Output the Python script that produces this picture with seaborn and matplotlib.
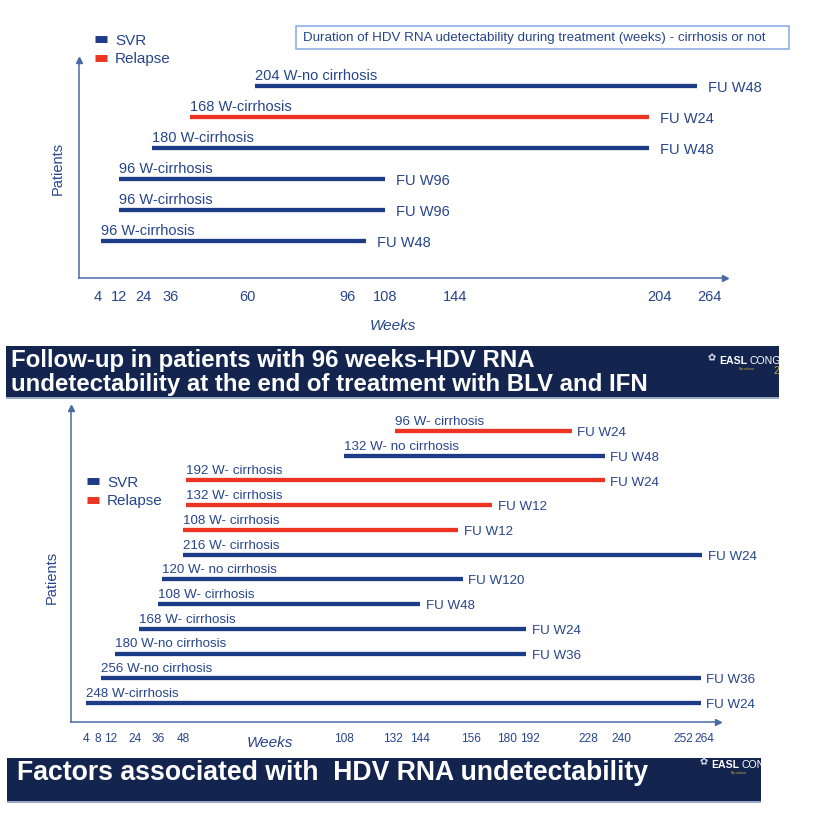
import numpy as np
import pandas as pd
import matplotlib
matplotlib.use("Agg")
import matplotlib.pyplot as plt
from matplotlib.patches import Rectangle
import seaborn as sns

# ---------------- data ----------------
top_labels = ["204 W-no cirrhosis", "168 W-cirrhosis", "180 W-cirrhosis",
              "96 W-cirrhosis", "96 W-cirrhosis", "96 W-cirrhosis"]
top_outcome = ["SVR", "Relapse", "SVR", "SVR", "SVR", "SVR"]
top_start = [63, 42, 28, 12, 12, 5]
top_end = [250, 201, 201, 108, 108, 102]
top_fu = ["FU W48", "FU W24", "FU W48", "FU W96", "FU W96", "FU W48"]
top_ticks = [4, 12, 24, 36, 60, 96, 108, 144, 204, 264]

bot_labels = ["96 W- cirrhosis", "132 W- no cirrhosis", "192 W- cirrhosis",
              "132 W- cirrhosis", "108 W- cirrhosis", "216 W- cirrhosis",
              "120 W- no cirrhosis", "108 W- cirrhosis", "168 W- cirrhosis",
              "180 W-no cirrhosis", "256 W-no cirrhosis", "248 W-cirrhosis"]
bot_outcome = ["Relapse", "SVR", "Relapse", "Relapse", "Relapse", "SVR",
               "SVR", "SVR", "SVR", "SVR", "SVR", "SVR"]
bot_start = [133, 108, 49, 49, 48, 48, 38, 36, 26, 14, 9, 4]
bot_end = [218, 234, 234, 170, 153, 263, 154, 144, 190, 190, 262, 262]
bot_fu = ["FU W24", "FU W48", "FU W24", "FU W12", "FU W12", "FU W24",
          "FU W120", "FU W48", "FU W24", "FU W36", "FU W36", "FU W24"]
bot_ticks = [4, 8, 12, 24, 36, 48, 108, 132, 144, 156, 180, 192, 228, 240, 252, 264]

legend_order = ["SVR", "Relapse"]
box_text = "Duration of HDV RNA udetectability during treatment (weeks) - cirrhosis or not"
banner1_lines = ["Follow-up in patients with 96 weeks-HDV RNA",
                 "undetectability at the end of treatment with BLV and IFN"]
banner2_text = "Factors associated with  HDV RNA undetectability"

# ---------------- style ----------------
BLUE = "#1d3c88"
RED = "#ec3422"
TXT = "#27458c"
AX = "#4a6aa5"
NAVY = "#13244f"
palette = {"SVR": BLUE, "Relapse": RED}

sns.set_theme(style="white")
plt.rcParams["font.family"] = ["Liberation Sans", "DejaVu Sans"]

W, H = 816, 819
fig = plt.figure(figsize=(W / 100, H / 100), dpi=100)
fig.patch.set_facecolor("white")


def fx(x):
    return x / W


def fy(y):
    return 1 - y / H


def make_df(start, end, outcome):
    n = len(start)
    rows = []
    for i in range(n):
        r = n - 1 - i
        rows.append({"patient": i, "week": start[i], "row": r, "outcome": outcome[i]})
        rows.append({"patient": i, "week": end[i], "row": r, "outcome": outcome[i]})
    return pd.DataFrame(rows)


def draw_chart(ax, labels, outcome, start, end, fu, ticks, knots_px, row_px,
               ax_px, lab_fs, fu_fs, fu_dx, tick_fs, tick_len,
               weeks_pos, patients_pos, leg_pos):
    df = make_df(start, end, outcome)
    sns.lineplot(data=df, x="week", y="row", hue="outcome", units="patient",
                 estimator=None, sort=False, palette=palette,
                 hue_order=legend_order, linewidth=3.1,
                 solid_capstyle="butt", ax=ax)
    n = len(start)
    for i in range(n):
        r = n - 1 - i
        ax.annotate(labels[i], xy=(start[i], r), xytext=(0, 2.2),
                    textcoords="offset points", ha="left", va="bottom",
                    fontsize=lab_fs, color=TXT)
        ax.annotate(fu[i], xy=(end[i], r), xytext=(fu_dx, -1.5),
                    textcoords="offset points", ha="left", va="center",
                    fontsize=fu_fs, color=TXT)
    # piecewise scale matching the schematic axis
    kw = [0] + list(ticks) + [280]
    kp = np.array(knots_px, dtype=float)
    fwd = lambda x: np.interp(x, kw, kp)
    inv = lambda p: np.interp(p, kp, kw)
    ax.set_xscale("function", functions=(fwd, inv))
    ax.set_xlim(0, 280)
    ax.set_xticks(ticks)
    ax.set_xticklabels([str(t) for t in ticks])
    ax.minorticks_off()
    left, right, top, bottom = ax_px
    r0, rtop = row_px
    sp = (r0 - rtop) / (n - 1)
    ax.set_ylim(-(bottom - r0) / sp, (n - 1) + (rtop - top) / sp)
    ax.set_yticks([])
    for s in ["top", "right"]:
        ax.spines[s].set_visible(False)
    for s in ["left", "bottom"]:
        ax.spines[s].set_color(AX)
        ax.spines[s].set_linewidth(1.1)
    ax.tick_params(axis="x", direction="inout", length=tick_len, width=1.1,
                   color=AX, labelcolor=TXT, labelsize=tick_fs, pad=5)
    ax.plot([1], [0], marker=">", color=AX, markersize=4,
            transform=ax.transAxes, clip_on=False)
    ax.plot([0], [1], marker="^", color=AX, markersize=4,
            transform=ax.transAxes, clip_on=False)
    ax.set_xlabel("Weeks", fontsize=11, style="italic", color=TXT, va="center")
    ax.xaxis.set_label_coords((weeks_pos[0] - left) / (right - left),
                              (bottom - weeks_pos[1]) / (bottom - top))
    ax.set_ylabel("Patients", fontsize=10.5, color=TXT, va="center")
    ax.yaxis.set_label_coords((patients_pos[0] - left) / (right - left),
                              (bottom - patients_pos[1]) / (bottom - top))
    ax.set_facecolor("none")
    sns.move_legend(ax, "center left", bbox_to_anchor=(fx(leg_pos[0]), fy(leg_pos[1])),
                    bbox_transform=fig.transFigure, frameon=False, title=None,
                    handlelength=0.8, handletextpad=0.5, labelspacing=0.3,
                    borderpad=0, borderaxespad=0, fontsize=11)
    leg = ax.get_legend()
    for h in leg.legend_handles:
        h.set_linewidth(5)
        h.set_solid_capstyle("butt")
    for t in leg.get_texts():
        t.set_color(TXT)


# top chart
ax1 = fig.add_axes([fx(79), fy(278), (725 - 79) / W, (278 - 60) / H])
draw_chart(ax1, top_labels, top_outcome, top_start, top_end, top_fu, top_ticks,
           [79, 98, 119, 143, 171, 247, 347, 385, 455, 659, 709, 725],
           (241, 86), (79, 725, 60, 278), 10.5, 10.5, 8, 10.5, 7,
           (393, 326), (58, 168), (95, 50))

# bottom chart
ax2 = fig.add_axes([fx(71), fy(722), (718 - 71) / W, (722 - 408) / H])
draw_chart(ax2, bot_labels, bot_outcome, bot_start, bot_end, bot_fu, bot_ticks,
           [71, 86, 98, 111, 135, 158, 183, 344, 393, 420, 471, 507, 530, 588,
            621, 683, 704, 718],
           (703, 431), (71, 718, 408, 722), 9.6, 9.6, 4, 8.6, 5.8,
           (270, 743), (52, 577), (87, 492))

# top info box
fig.patches.append(Rectangle((fx(296), fy(49)), (789 - 296) / W, (49 - 26) / H,
                             transform=fig.transFigure, fill=False,
                             edgecolor="#8fb0e3", linewidth=1.2))
fig.text(fx(303), fy(37.5), box_text, fontsize=9.6, color=TXT, va="center", ha="left")


# banners
def banner(x0, y0, x1, y1):
    r = Rectangle((fx(x0), fy(y1)), (x1 - x0) / W, (y1 - y0) / H,
                  transform=fig.transFigure, facecolor=NAVY, edgecolor="none")
    fig.patches.append(r)
    fig.patches.append(Rectangle((fx(x0), fy(y1 + 1.5)), (x1 - x0) / W, 2 / H,
                                 transform=fig.transFigure, facecolor="#9aa8c8",
                                 edgecolor="none"))
    return r


b1 = banner(6, 346, 779, 397)
fig.text(fx(11), fy(367), banner1_lines[0], fontsize=17.3, fontweight="bold",
         color="white", va="baseline", ha="left")
fig.text(fx(11), fy(391), banner1_lines[1], fontsize=17.3, fontweight="bold",
         color="white", va="baseline", ha="left")
b2 = banner(7, 758, 761, 801)
fig.text(fx(17), fy(780), banner2_text, fontsize=19.2, fontweight="bold",
         color="white", va="baseline", ha="left")

renderer = fig.canvas.get_renderer()


def logo(x, y, rect, show_year):
    flower = fig.text(fx(x - 12), fy(y - 3), "\u273f", fontsize=7, color="#e0e4f0",
                      family=["DejaVu Sans"], va="center", ha="left")
    easl = fig.text(fx(x), fy(y), "EASL", fontsize=7.6, fontweight="bold",
                    color="white", va="center", ha="left")
    bb = easl.get_window_extent(renderer)
    cong = fig.text(fx(bb.x1 + 2), fy(y), "CONGRESS", fontsize=7.6, color="white",
                    va="center", ha="left")
    items = [flower, easl, cong]
    if show_year:
        items.append(fig.text(fx(x + 54), fy(y + 10.5), "20", fontsize=7.5,
                              color="#c9a640", va="center", ha="left"))
    items.append(fig.text(fx(x + 20), fy(y + 8.5), "Barcelona", fontsize=2.5,
                          color="#c9a640", va="center", ha="left"))
    for t in items:
        t.set_clip_path(rect)


logo(719, 361, b1, True)
logo(711, 765, b2, False)

fig.savefig("out.png", dpi=100, facecolor="white")
